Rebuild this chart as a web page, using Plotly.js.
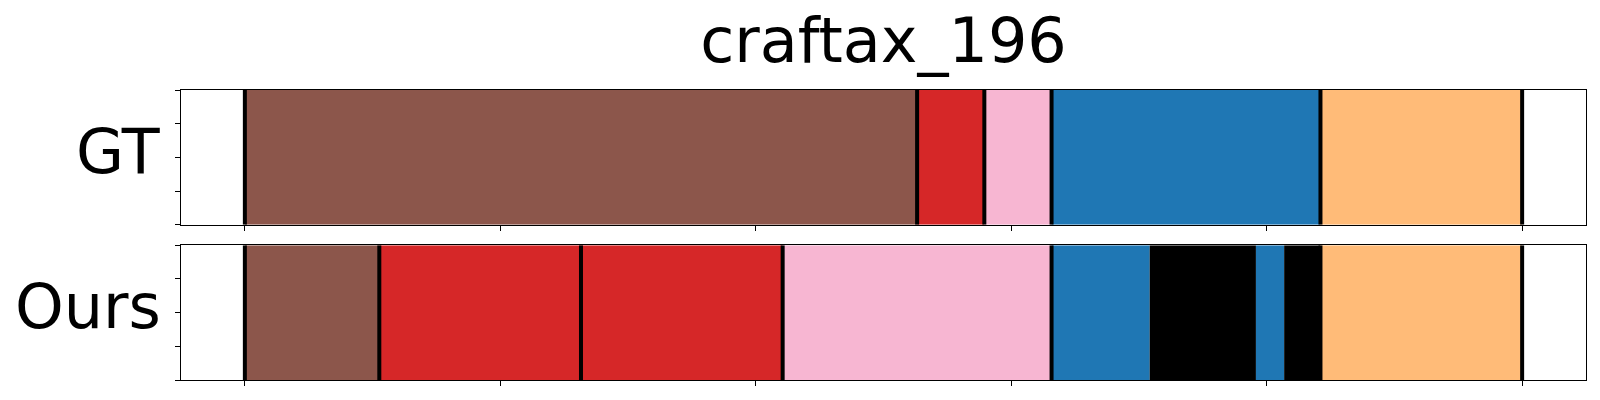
<!DOCTYPE html>
<html>
<head>
<meta charset="utf-8">
<script src="https://cdn.plot.ly/plotly-3.0.1.min.js"></script>
<style>html,body{margin:0;padding:0;background:#fff;}#chart{width:1600px;height:400px;}</style>
</head>
<body>
<div id="chart"></div>
<script>
// ---- data ----
const chartTitle = 'craftax_196';
const rowNames = ['GT', 'Ours'];
const totalLength = 19;
const gtBounds = [0, 10, 11, 12, 16, 19];
const gtClasses = ['brown', 'red', 'pink', 'blue', 'orange'];
const gtMarkers = [0, 10, 11, 12, 16, 19];
const oursBounds = [0, 2, 5, 8, 12, 13.46, 15.04, 15.46, 16, 19];
const oursClasses = ['brown', 'red', 'red', 'pink', 'blue', 'black', 'blue', 'black', 'orange'];
const oursMarkers = [0, 2, 5, 8, 12, 16, 19];
const xTickCount = 6;
const yTicks = [0, 0.25, 0.5, 0.75, 1];

// ---- styles ----
const palette = {brown: '#8c564b', red: '#d62728', pink: '#f7b6d2', blue: '#1f77b4', orange: '#ffbb78', black: '#000000'};
const FONT = 'DejaVu Sans, Verdana, sans-serif';

function barTrace(bounds, classes, xa, ya) {
  const base = [], len = [], ys = [], cols = [];
  for (let i = 0; i < classes.length; i++) {
    base.push(bounds[i]);
    len.push(bounds[i + 1] - bounds[i]);
    ys.push(0.5);
    cols.push(palette[classes[i]]);
  }
  return {type: 'bar', orientation: 'h', base: base, x: len, y: ys, width: 1,
    marker: {color: cols, line: {width: 0}}, xaxis: xa, yaxis: ya,
    hoverinfo: 'skip', showlegend: false};
}
function lineTrace(markers, xa, ya) {
  const xs = [], ys = [];
  markers.forEach(m => { xs.push(m, m, null); ys.push(0, 1, null); });
  return {type: 'scatter', mode: 'lines', x: xs, y: ys, line: {color: '#000', width: 4},
    xaxis: xa, yaxis: ya, hoverinfo: 'skip', showlegend: false, cliponaxis: false};
}

const pad = 0.05 * totalLength;
const xTickVals = [];
for (let i = 0; i < xTickCount; i++) xTickVals.push(totalLength * i / (xTickCount - 1));

const xAxisBase = {range: [-pad, totalLength + pad], showgrid: false, zeroline: false,
  showline: true, mirror: true, linecolor: '#000', linewidth: 1.3,
  ticks: 'outside', ticklen: 5, tickwidth: 1, tickcolor: '#000',
  tickvals: xTickVals, showticklabels: false, fixedrange: true};
const yAxisBase = {range: [0, 1], showgrid: false, zeroline: false,
  showline: true, mirror: true, linecolor: '#000', linewidth: 1.3,
  ticks: 'outside', ticklen: 5, tickwidth: 1, tickcolor: '#000',
  tickvals: yTicks, showticklabels: false, fixedrange: true};

const data = [
  barTrace(gtBounds, gtClasses, 'x', 'y'),
  lineTrace(gtMarkers, 'x', 'y'),
  barTrace(oursBounds, oursClasses, 'x2', 'y2'),
  lineTrace(oursMarkers, 'x2', 'y2')
];

const layout = {
  width: 1600, height: 400,
  margin: {l: 181, r: 14, t: 90, b: 20},
  paper_bgcolor: '#fff', plot_bgcolor: '#fff',
  barmode: 'overlay',
  font: {family: FONT, color: '#000'},
  title: {text: chartTitle, font: {family: FONT, size: 62, color: '#000'},
    x: 0.5, xref: 'paper', xanchor: 'center', y: 0.9, yref: 'container', yanchor: 'middle'},
  xaxis: Object.assign({}, xAxisBase, {domain: [0, 1], anchor: 'y'}),
  yaxis: Object.assign({}, yAxisBase, {domain: [0.5355, 1], anchor: 'x'}),
  xaxis2: Object.assign({}, xAxisBase, {domain: [0, 1], anchor: 'y2'}),
  yaxis2: Object.assign({}, yAxisBase, {domain: [0, 0.4645], anchor: 'x2'}),
  annotations: rowNames.map((name, i) => ({
    text: name, xref: 'paper', x: -0.0173, xanchor: 'right', xshift: 6,
    yref: i === 0 ? 'y' : 'y2', y: 0.5, yanchor: 'middle', yshift: 6,
    showarrow: false, font: {family: FONT, size: 62, color: '#000'}
  }))
};

Plotly.newPlot('chart', data, layout, {staticPlot: true, displayModeBar: false});
</script>
</body>
</html>
